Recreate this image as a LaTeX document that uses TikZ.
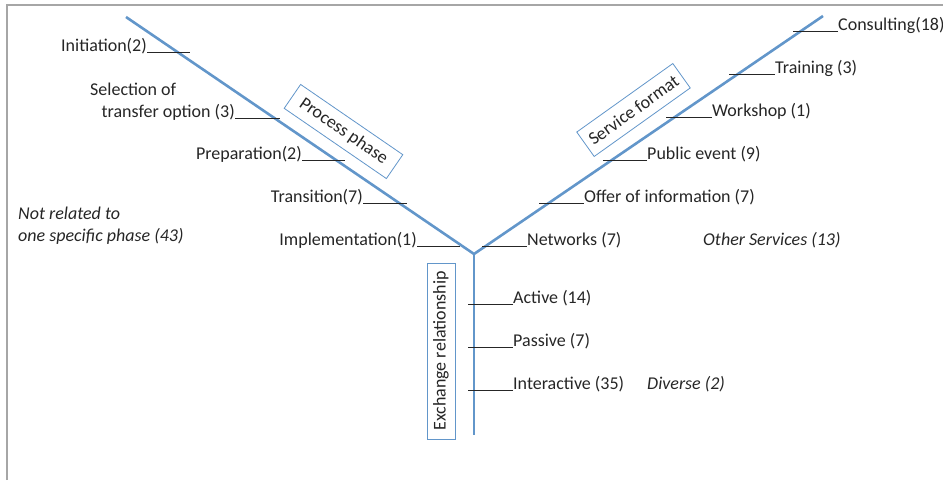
\documentclass[tikz,border=0pt]{standalone}
\usepackage{fontspec}
\setmainfont{Carlito}
\begin{document}
\begin{tikzpicture}[x=1pt,y=-1pt,
  every node/.style={font=\fontsize{18}{21.5}\selectfont, text=black!85},
  lab/.style={inner sep=0pt},
  itlab/.style={inner sep=0pt, font=\fontsize{18}{21.5}\selectfont\itshape},
  armline/.style={draw=armblue, line width=2.6pt},
  tick/.style={draw=black!85, line width=0.9pt},
  catbox/.style={draw=armblue, line width=0.8pt, fill=white, inner sep=0pt},
  frameline/.style={draw=black!35, line width=1.5pt}]
\definecolor{armblue}{RGB}{98,150,202}
\useasboundingbox (0,0) rectangle (943,480);
% frame
\coordinate (F1) at (7,480);
\coordinate (F2) at (7,5);
\coordinate (F3) at (943,5);
\draw[frameline] (F1) -- (F2) -- (F3);
% main lines
\coordinate (J) at (474,254);
\coordinate (L) at (126,17);
\coordinate (R) at (823,16);
\coordinate (B) at (474,435);
\draw[armline] (L) -- (J) -- (R);
\draw[armline] (J) -- (B);
% category boxes
\node[catbox, minimum width=124, minimum height=29, rotate=-34.5] (pp) at (343.5,131.5) {Process phase};
\node[catbox, minimum width=118, minimum height=30, rotate=35.5] (sf) at (633.5,110) {Service format};
\node[catbox, minimum width=176, minimum height=28, rotate=90] (er) at (441,351) {Exchange relationship};
% left labels
\node[lab, anchor=base east] (init) at (147,51) {Initiation(2)};
\node[lab, anchor=base west] (sel1) at (90,95) {Selection of};
\node[lab, anchor=base east] (sel2) at (235,117) {transfer option (3)};
\node[lab, anchor=base east] (prep) at (302,159) {Preparation(2)};
\node[lab, anchor=base east] (tran) at (363,202) {Transition(7)};
\node[lab, anchor=base east] (impl) at (417,245) {Implementation(1)};
\draw[tick] ([yshift=-1.5pt]init.base east) -- ++(43,0);
\draw[tick] ([yshift=-1.5pt]sel2.base east) -- ++(45,0);
\draw[tick] ([yshift=-1.5pt]prep.base east) -- ++(43,0);
\draw[tick] ([yshift=-1.5pt]tran.base east) -- ++(44,0);
\draw[tick] ([yshift=-1.5pt]impl.base east) -- ++(43,0);
% right labels
\node[lab, anchor=base west] (cons) at (838,30) {Consulting(18)};
\node[lab, anchor=base west] (trai) at (775,73) {Training (3)};
\node[lab, anchor=base west] (work) at (712,116) {Workshop (1)};
\node[lab, anchor=base west] (pube) at (647,159) {Public event (9)};
\node[lab, anchor=base west] (offe) at (584,202) {Offer of information (7)};
\node[lab, anchor=base west] (netw) at (527,245) {Networks (7)};
\draw[tick] ([yshift=-1.5pt]cons.base west) -- ++(-45,0);
\draw[tick] ([yshift=-1.5pt]trai.base west) -- ++(-46,0);
\draw[tick] ([yshift=-1.5pt]work.base west) -- ++(-46,0);
\draw[tick] ([yshift=-1.5pt]pube.base west) -- ++(-44,0);
\draw[tick] ([yshift=-1.5pt]offe.base west) -- ++(-45,0);
\draw[tick] ([yshift=-1.5pt]netw.base west) -- ++(-45,0);
% vertical labels
\node[lab, anchor=base west] (acti) at (513,303) {Active (14)};
\node[lab, anchor=base west] (pass) at (513,346) {Passive (7)};
\node[lab, anchor=base west] (inte) at (513,389) {Interactive (35)};
\draw[tick] ([yshift=-1.5pt]acti.base west) -- ++(-45,0);
\draw[tick] ([yshift=-1.5pt]pass.base west) -- ++(-45,0);
\draw[tick] ([yshift=-1.5pt]inte.base west) -- ++(-45,0);
% italic notes
\node[itlab, anchor=base west] (nr1) at (18,219) {Not related to};
\node[itlab, anchor=base west] (nr2) at (18,241) {one specific phase (43)};
\node[itlab, anchor=base west] (oths) at (703,245) {Other Services (13)};
\node[itlab, anchor=base west] (dive) at (647,389) {Diverse (2)};
\end{tikzpicture}
\end{document}
